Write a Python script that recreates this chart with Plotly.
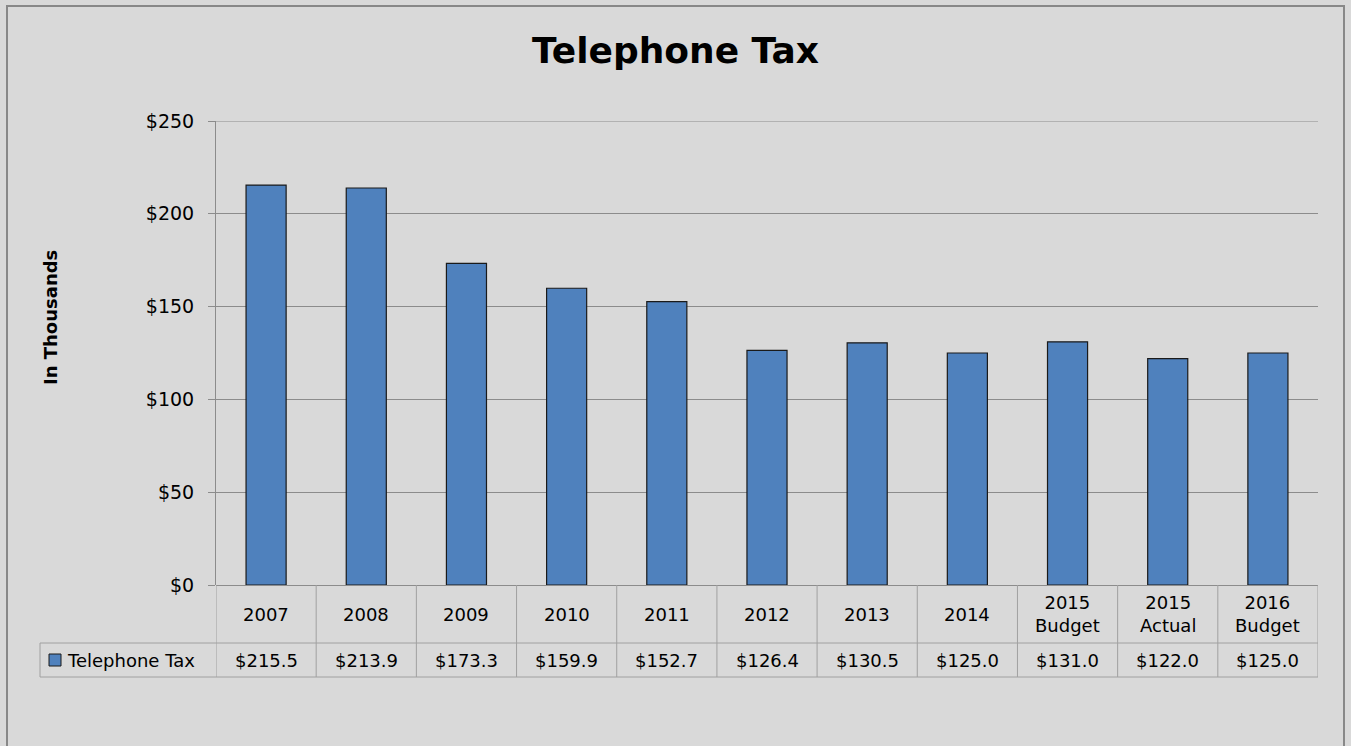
import plotly.graph_objects as go

categories = ["2007", "2008", "2009", "2010", "2011", "2012", "2013", "2014",
              "2015 Budget", "2015 Actual", "2016 Budget"]
values = [215.5, 213.9, 173.3, 159.9, 152.7, 126.4, 130.5, 125.0, 131.0, 122.0, 125.0]
series_name = "Telephone Tax"
y_ticks = [0, 50, 100, 150, 200, 250]

BG = "#d9d9d9"
BAR = "#4f81bd"
GRID = "#8c8c8c"
TABLE = "#a0a0a0"
FONT = "DejaVu Sans"

W, H = 1351, 746
L, R, T, B = 216, 33, 121, 161
pw, ph = W - L - R, H - T - B

def py(p):  # pixel y -> paper
    return (H - B - p) / ph

def px(p):  # pixel x -> paper
    return (p - L) / pw

fig = go.Figure()
fig.add_trace(go.Bar(
    x=categories, y=values, name=series_name,
    marker=dict(color=BAR, line=dict(color="#1a1a1a", width=1.2)),
    hoverinfo="x+y",
))

shapes = []
annotations = []
n = len(categories)
y_head_bot = py(643)
y_tab_bot = py(677)

# top gridline at the range edge
shapes.append(dict(type="line", xref="paper", yref="y", x0=0, x1=1,
                   y0=y_ticks[-1], y1=y_ticks[-1], line=dict(color=GRID, width=1), layer="below"))
# vertical table lines at category boundaries
for i in range(n + 1):
    shapes.append(dict(type="line", xref="x", yref="paper", x0=i - 0.5, x1=i - 0.5,
                       y0=0, y1=y_tab_bot, line=dict(color=TABLE, width=1)))
# horizontal lines
shapes.append(dict(type="line", xref="paper", yref="paper", x0=px(40), x1=1,
                   y0=y_head_bot, y1=y_head_bot, line=dict(color=TABLE, width=1)))
shapes.append(dict(type="line", xref="paper", yref="paper", x0=px(40), x1=1,
                   y0=y_tab_bot, y1=y_tab_bot, line=dict(color=TABLE, width=1)))
shapes.append(dict(type="line", xref="paper", yref="paper", x0=px(40), x1=px(40),
                   y0=y_head_bot, y1=y_tab_bot, line=dict(color=TABLE, width=1)))
# legend key
shapes.append(dict(type="rect", xref="paper", yref="paper", x0=px(49), x1=px(61),
                   y0=py(666), y1=py(654), fillcolor=BAR, line=dict(color="#1a1a1a", width=1)))
# outer frame
shapes.append(dict(type="rect", xref="paper", yref="paper", x0=px(7), x1=px(1344),
                   y0=py(760), y1=py(6), line=dict(color="#888888", width=2),
                   fillcolor="rgba(0,0,0,0)", layer="below"))

for i, (c, v) in enumerate(zip(categories, values)):
    annotations.append(dict(x=i, y=py(614), xref="x", yref="paper", text=c.replace(" ", "<br>"),
                            showarrow=False, font=dict(family=FONT, size=18, color="#000"),
                            yanchor="middle", xanchor="center"))
    annotations.append(dict(x=i, y=py(660), xref="x", yref="paper", text=f"${v:.1f}",
                            showarrow=False, font=dict(family=FONT, size=18, color="#000"),
                            yanchor="middle", xanchor="center"))

annotations.append(dict(x=px(65), y=py(660), xref="paper", yref="paper", text=series_name,
                        showarrow=False, font=dict(family=FONT, size=18, color="#000"),
                        xanchor="left", yanchor="middle"))
annotations.append(dict(x=px(50), y=py(318), xref="paper", yref="paper", text="<b>In Thousands</b>",
                        textangle=-90, showarrow=False, font=dict(family=FONT, size=18, color="#000"),
                        xanchor="center", yanchor="middle"))

fig.update_layout(
    width=W, height=H,
    margin=dict(l=L, r=R, t=T, b=B),
    paper_bgcolor=BG, plot_bgcolor=BG,
    title=dict(text="<b>Telephone Tax</b>", x=0.5, xanchor="center", y=1 - 50 / H, yanchor="middle",
               font=dict(family=FONT, size=36, color="#000")),
    showlegend=False,
    bargap=0.6,
    shapes=shapes,
    annotations=annotations,
    xaxis=dict(showticklabels=False, showgrid=False, showline=False, zeroline=False,
               range=[-0.5, n - 0.5], fixedrange=True),
    yaxis=dict(range=[0, 250], tickvals=y_ticks, ticktext=[f"${t}" for t in y_ticks],
               showgrid=True, gridcolor=GRID, gridwidth=1,
               zeroline=True, zerolinecolor=GRID, zerolinewidth=1,
               showline=True, linecolor=GRID, linewidth=1,
               ticks="outside", ticklen=7, tickcolor=GRID, ticklabelstandoff=10,
               tickfont=dict(family=FONT, size=19, color="#000"), fixedrange=True),
    font=dict(family=FONT),
)

fig.write_html("out.html")
